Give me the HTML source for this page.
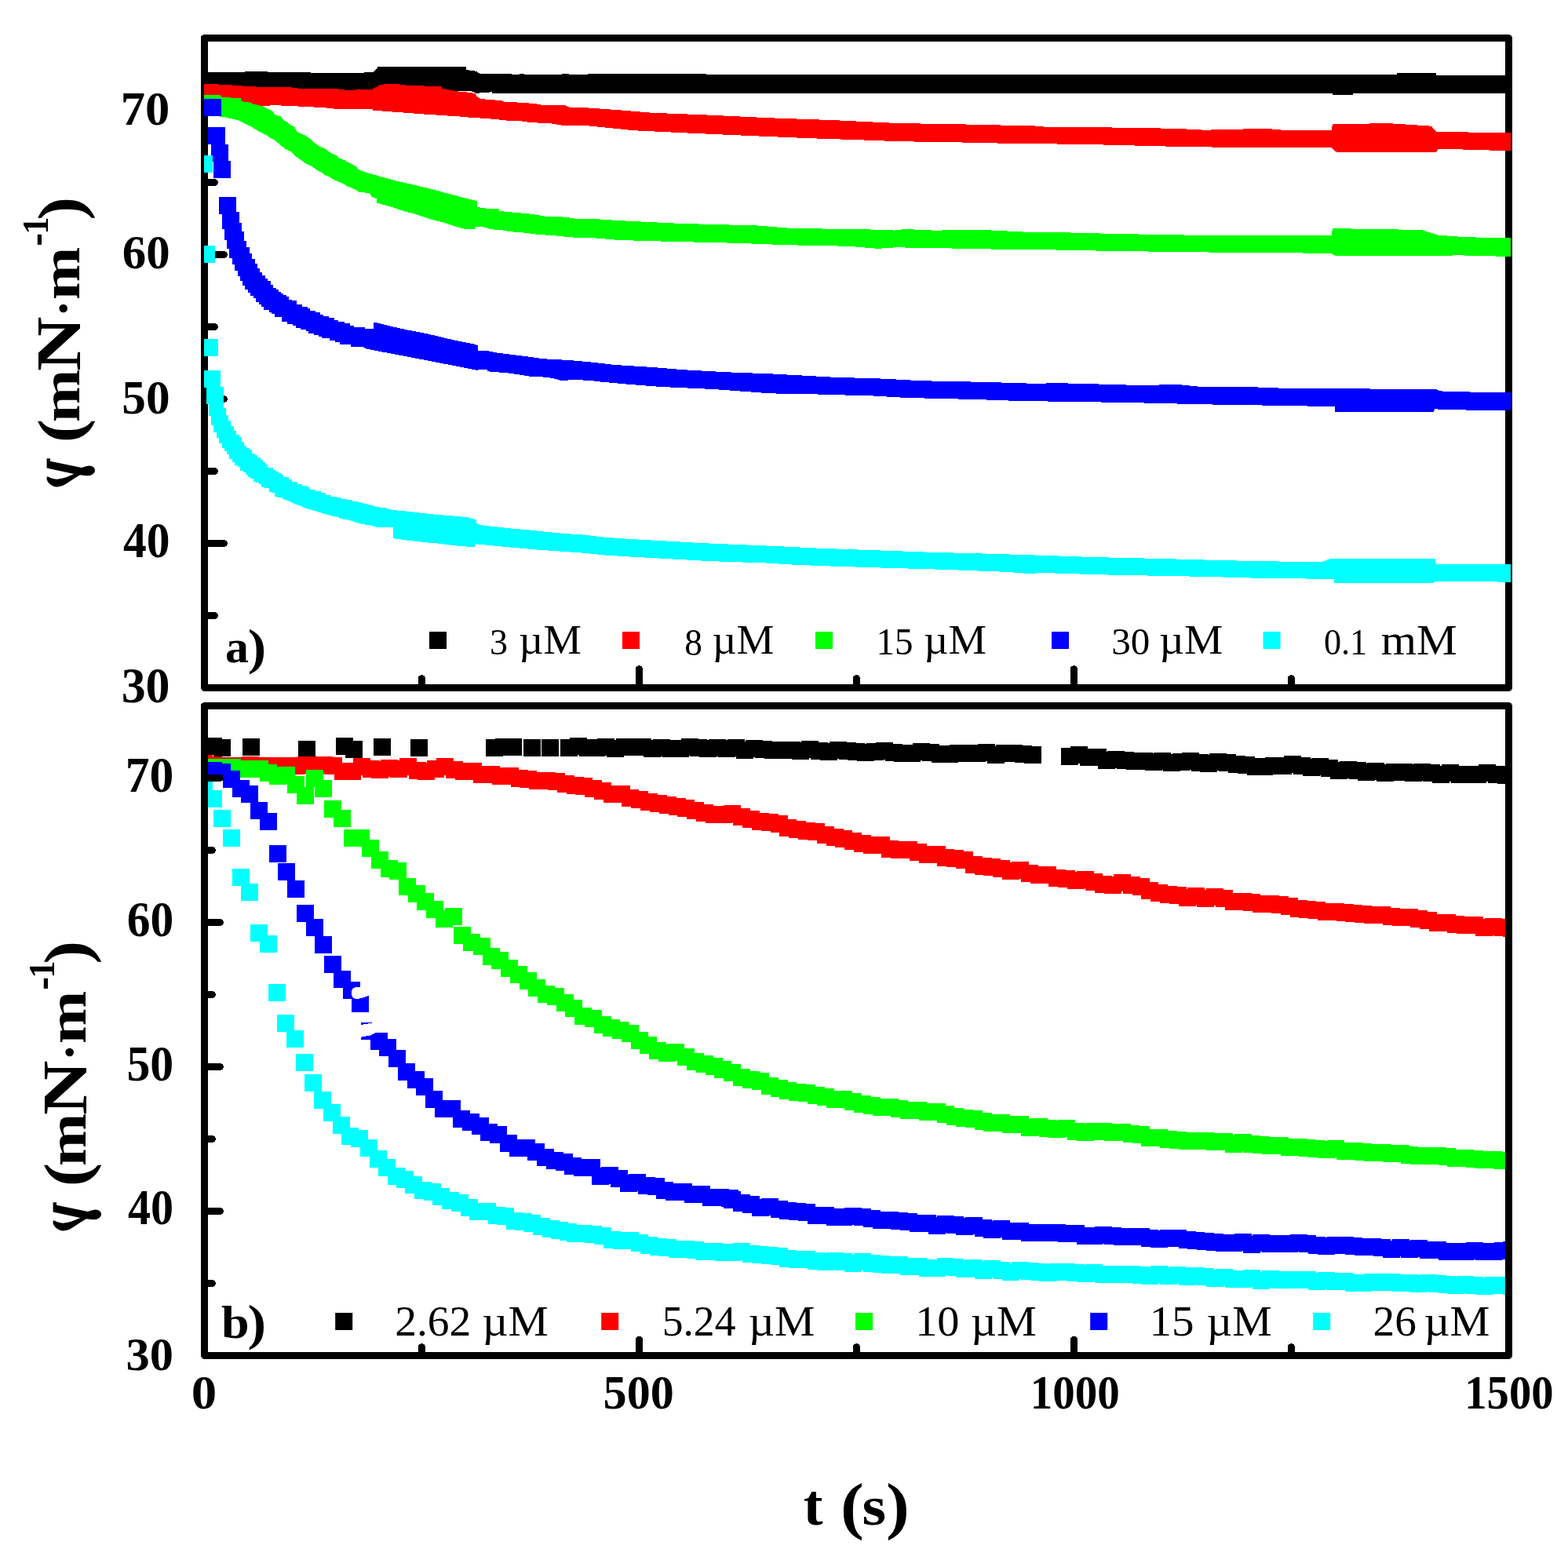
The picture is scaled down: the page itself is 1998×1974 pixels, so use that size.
<!DOCTYPE html>
<html><head><meta charset="utf-8"><style>
html,body{margin:0;padding:0;background:#fff;}
svg{display:block;}
text{font-family:"Liberation Serif","DejaVu Serif",serif;fill:#000;}
</style></head><body>
<svg width="1998" height="1974" viewBox="0 0 1998 1974" shape-rendering="crispEdges">
<defs>
<clipPath id="ca"><rect x="260" y="48.5" width="1665" height="828.0"/></clipPath>
<clipPath id="cb"><rect x="265" y="904" width="1653" height="819"/></clipPath>
</defs>
<rect width="1998" height="1974" fill="#fff"/>
<g stroke="#000" stroke-width="9" stroke-linecap="round" stroke-linejoin="round">
<rect x="260.5" y="48.5" width="1662.0" height="828.0" fill="none" stroke="#000" stroke-width="9"/>
<line x1="814.5" y1="876.5" x2="814.5" y2="852.5" />
<line x1="1368.5" y1="876.5" x2="1368.5" y2="852.5" />
<line x1="537.5" y1="876.5" x2="537.5" y2="864.5" />
<line x1="1091.5" y1="876.5" x2="1091.5" y2="864.5" />
<line x1="1645.5" y1="876.5" x2="1645.5" y2="864.5" />
<line x1="260.5" y1="692.5" x2="285.5" y2="692.5" />
<line x1="260.5" y1="508.5" x2="285.5" y2="508.5" />
<line x1="260.5" y1="324.5" x2="285.5" y2="324.5" />
<line x1="260.5" y1="140.5" x2="285.5" y2="140.5" />
<line x1="260.5" y1="784.5" x2="273.5" y2="784.5" />
<line x1="260.5" y1="600.5" x2="273.5" y2="600.5" />
<line x1="260.5" y1="416.5" x2="273.5" y2="416.5" />
<line x1="260.5" y1="232.5" x2="273.5" y2="232.5" />
</g>
<g clip-path="url(#ca)">
<polygon fill="#000000" points="255,92 312,92 312,91 341,91 341,92 450,93 475.6,92.1 481.8,85.1 593.6,85.1 594.4,89 606,90.6 611.5,93.7 651.9,93.7 651.9,95.5 664.3,94.3 689.1,95.5 721.7,94.3 743.5,95.5 750,94.3 900,94.5 1100,94.5 1330,95.5 1780,95 1780,93.3 1830,93.3 1830,95.5 1930,95.5 1930,119 1724,119 1724,121.2 1698,121.2 1698,119 1340,118.5 740,118.5 627,118.5 627,117.3 606.8,118.8 600,116 255,116"/>
<polygon fill="#ff0000" points="255,107.8 262.9,107 287,107.8 313.7,109.9 333.6,110.9 371.3,111.4 378.6,112.5 431,113.5 439.4,114.6 451,114.6 455,114.2 473.3,114.5 475.6,112.9 481,110.3 483.4,107.6 506.7,107.2 518.3,108.7 561.8,110.3 563.4,112.6 572.7,114.5 583.5,116.5 596,117.6 605.3,119.1 607.6,122.7 612.3,125.8 619.3,126.6 638.7,128.1 643.3,130 658.9,130.5 682.1,132 689.1,133.6 720.2,134.3 725.6,136.7 740,136.8 795.9,140.8 833.2,143.9 892.2,146.1 976,150.1 1063,153.2 1143.7,157 1230.7,158.5 1327,160.7 1330,161.6 1417,162.5 1497.7,163.8 1535,165.7 1612.6,163.8 1634.3,165.7 1696.5,166.3 1698,158.5 1767.9,157 1823.8,160.7 1830,167.8 1889,168.8 1930,168.8 1930,191.7 1904.5,191.7 1833.1,189.6 1830,193.6 1702.7,193.6 1696.5,188 1653,188 1572.2,188 1485.3,186.5 1398.3,184.3 1340,183.4 1311.4,183.4 1212,181.2 1143.7,180.2 1106.5,178.7 1031.9,176.2 957.4,173.1 873.5,169.4 808.3,166.3 750,160.4 717.9,160 702.3,157.3 676.7,156.1 665,154.5 641,153.3 634,152.2 614.6,150.7 597.5,149.6 583.5,148.3 569.6,147.5 555.6,146.5 540.1,145.5 526.1,144.4 512.1,143.4 498.1,142.4 484.2,141.3 475.6,141.3 474.8,139 455,138.9 427.9,138.9 412.7,137.1 379.7,135.5 353,134.3 347.7,134.3 333.6,135 300,132 255,130"/>
<polygon fill="#00ff00" points="255,120.9 281,120.9 281,123 283.8,123.8 293.8,124.5 306.9,125 306.9,127.7 311,129.8 321,130.8 322,132.4 333.6,135 340.9,138.7 347.7,141.8 350.9,147 357.7,148.1 360.8,152.8 365,154.9 368.1,158 371.8,160.1 375.5,162.2 378.6,168 388,172.2 391.7,174.3 394.9,176.9 400.6,182.1 408,186.9 414.8,190 421.6,194.7 427.9,197.9 431,201 438.9,204.1 445.7,207.8 452,211 455,213.6 457,216.3 464,219 474.8,222.1 485.7,225.2 499.7,229.1 512.1,232.2 526.1,235.3 540.1,238.7 555.6,242.3 569.6,246.5 583.5,250 597.5,253.6 608.4,256.2 608.4,264 619.3,265.5 635.6,266.3 636.3,268.9 651.9,270.5 665.8,271.7 679,273 694.6,275.6 721.7,276.7 732.6,278.7 750,278.7 802.1,281.8 867.3,284.9 963.6,287.4 1010.2,291.1 1094,292 1140.6,293.6 1153,292 1190.3,293.6 1252.4,293 1314.5,296.1 1340,295.8 1392.1,297.3 1485.3,299.2 1578.4,300.4 1696.5,300.4 1698,291.1 1811.4,293 1833.1,299.8 1870.4,302.3 1930,303.5 1930,327.1 1858,325.3 1826.9,326.2 1702.7,326.2 1696.5,323.1 1640.6,322.2 1547.4,321.6 1423.2,320 1340,318.4 1302.1,318.4 1236.9,316.9 1140.6,315.3 1118.9,316.9 1081.6,313.8 1000.9,312.2 938.8,309.8 845.6,307.6 789.7,306 750,302.8 734.2,302.8 718.6,301.6 703.9,300 684.5,298.9 668.2,296.6 648,295 641,293.5 624.7,292.2 616.9,289.6 606.8,288.8 604.5,291.9 593.6,292.2 583.5,289.6 564.9,283.4 549.4,279.5 530.7,273.3 515.2,269.4 496.6,263.2 480.3,258.5 480.3,253.1 473.3,250.8 471,246.1 457,244.6 453.5,241.9 447.2,239.2 440.4,236.1 437.3,234 431,231.4 425.8,229.3 420,225.6 413.2,222.5 410.1,219.9 403.8,216.7 397,212 389.6,208.3 382.8,203.6 377,199.4 373.4,195.8 369.7,192.6 362.9,189.5 358.7,185.8 353.5,181.6 349.8,178.5 343,174.8 338.8,171.7 333,169 328.9,167 323.1,163.3 315.8,159.6 309.5,156 303.2,153.3 292.2,150.7 288.5,149.7 281.2,148.6 255,147"/>
<polygon fill="#0000ff" points="279,251 301,251 301,270 305,270 305,284 308,284 308,295 311,295 311,307 314,307 314,315 318,315 318,323 321,323 321,330 325,330 325,336 328,336 328,342 331,342 331,347 334,347 334,351 338,351 338,355 341,355 341,358 345,358 345,363 348,363 348,367 352,367 352,369 355,369 355,372 358,372 358,374 361,374 361,376 365,376 365,378 368,378 368,382 371.8,382 371.8,383 378,383 378,388 385,388 385,391 391.7,391 391.7,393 394.9,393 394.9,396 401.7,396 401.7,398.3 408,398.3 408,401 412,401 412,403 419,403 419,405 426,405 426,407.7 431,407.7 431,410 438.9,410 438.9,412 445.7,412 445.7,414.8 451,414.8 451,417 464.8,417 464.8,419 475.6,419 476.1,411.2 481,411.5 490.4,413.8 502.8,416.9 516.8,420 530.7,422.7 544.7,425.5 558.7,428.6 571.1,431.7 585.1,434.8 603.7,438.5 608.7,440.1 608.7,446.8 622.4,447.4 631.7,449.4 650.3,451.7 669.7,454.1 686,456.4 701.6,458 721.7,458.7 739.6,460.3 750,461.1 783.5,465 833.2,468.1 870.4,471.2 926.3,474.3 985.3,476.5 1059.9,480.6 1128.2,482.7 1171.7,485.2 1252.4,486.8 1320.7,488.9 1345.5,488.1 1407.6,489.7 1458.9,491.2 1497.7,489.7 1528.8,492.8 1600.2,493.4 1642.1,495 1702.7,495.3 1830,495.9 1834.7,498.4 1876.6,499.6 1930,500.6 1930,522.3 1901.4,523.2 1858,522.3 1828.4,521.4 1826.9,524.5 1701.1,524.5 1701.1,517.6 1671.6,517.6 1584.7,516.1 1524.1,515.2 1479.1,513.9 1396.8,512.4 1340,511.6 1289.7,510.7 1246.2,509.1 1156.1,507 1112.7,504.5 1035,502.3 982.2,501.4 910.8,496.1 842.5,493 802.1,489.9 768,486.8 750,484.7 735.7,484.3 714,484.7 704.7,482 692.2,480.5 675.2,479.7 651.1,475.8 637.9,474.7 620.8,473.2 620.8,471.1 606.1,471.6 585.1,467.3 564.9,463.4 544.7,459.5 524.5,455.6 504.3,451.7 484.2,447.9 467.9,444.8 462.4,442.1 455,442.3 447.2,442.3 447.2,439.2 433.1,439.2 433.1,436 426.8,436 426.8,434 420,434 420,431.3 410,431.3 410,428.7 406.4,428.7 406.4,426.6 400,426.6 400,424.7 393,424.7 393,421.9 390,421.9 390,420 383.3,420 383.3,418.2 377,418.2 377,414.8 373.4,414.8 373.4,413 366,413 366,409.8 359,409.8 359,403.7 350,403.7 350,399.9 346.1,399.9 346.1,397.8 343,397.8 343,394.6 336.2,394.6 336.2,391 333,391 333,388 330,388 330,385 326,385 326,380 323,380 323,377 319,377 319,373 316,373 316,369 312,369 312,364 309,364 309,358 306,358 306,352 303,352 303,344.9 299,344.9 299,337 296.1,337 296.1,329 292.2,329 292.2,317 289,317 289,305.9 286.1,305.9 286.1,292 283.1,292 283.1,273.1 279.1,273.1"/>
<path fill="#0000ff" d="M259.5 126h22v22h-22zM265 162h22v22h-22zM269 183.5h22v22h-22zM272 205h22v22h-22z"/>
<polygon fill="#00ffff" points="260,472 281,472 281,492.9 284.9,492.9 284.9,520.1 288,520.1 288,529 291,529 291,535.9 294,535.9 294,543.2 298,543.2 298,549 300.9,549 300.9,554 305,554 305,557.1 308,557.1 308,563.1 311,563.1 311,568 314,568 314,571 318,571 318,573 321,573 321,578.1 325,578.1 325,579.9 328,579.9 328,583 332,583 332,586.1 335,586.1 335,589 338,589 338,592 341,592 341,595.9 348,595.9 348,599 352,599 352,600.8 355,600.8 355,602.9 359,602.9 359,605 361,605 361,608.2 368,608.2 368,611 371.8,611 371.8,613.6 378.6,613.6 378.6,616.7 384.8,616.7 384.8,619.2 391.7,619.2 391.7,621 394.9,621 394.9,623.9 401.9,623.9 401.9,625.7 409,625.7 409,627.9 415,627.9 415,630.6 422.1,630.6 422.1,632.5 428.9,632.5 428.9,634.1 435.2,634.1 435.2,636 442,636 442,637.4 448.8,637.4 448.8,639.2 455,639.2 461.9,640.9 469,642.8 476.1,644.5 478,645.8 491.9,647.4 498.1,649.7 515.2,651.3 535.4,653.6 557.1,655.9 586.6,658.3 596.7,659.5 606.5,662.1 606.8,666.8 613,669.1 633.2,671.5 653.4,673.8 673.6,675.3 693.8,677.7 720.2,680 739.6,681.2 750,682.3 771.1,684.8 808.3,687.3 848.7,689.5 892.2,692 945,694.2 994.7,696.3 1045.9,698.8 1108,701 1177.9,703.5 1271,706 1335,708 1395.2,710.1 1440.2,711.1 1491.5,712.3 1559.8,714.2 1620.4,715.4 1684,716.3 1694.9,712 1828.4,712 1830,718.8 1847.1,719.4 1930,719.4 1930,741.5 1907.6,741.5 1828.4,740.6 1826.9,742.7 1699.6,742.7 1699.6,737.5 1665.4,737.5 1594,736.5 1541.2,735 1472.9,733.7 1423.2,732.8 1364.2,731.2 1335,730.2 1308.3,730.8 1283.5,728.9 1202.7,725.8 1128.2,723.7 1058.3,721.5 1010.2,719.6 976,717.5 901.5,715 851.8,712.2 805.2,709.7 771.1,707.5 740,704.4 676.7,700 662.7,698.6 636.3,696.3 614.6,694 606.1,693.2 605.3,697.4 582,695.5 555.6,692.4 537,690.6 518.3,688.5 501.2,686.2 501.2,671.9 478.9,671.6 474,669.8 467.1,668.9 460,667.6 451,664.8 443.9,662.7 433,660.8 430.8,658.9 424,657.7 420.2,656.8 416.8,655.8 410,654 404.1,651.8 400.1,650.9 392.9,648.7 387,646.8 383.9,645 376.8,642.8 369.9,639.7 366.2,637.8 359.8,636 359.8,634.3 353,634.3 353,632.8 350,632.8 350,628 346.1,628 346.1,626.5 343,626.5 343,622.3 337,622.3 337,620.7 333,620.7 333,617 330,617 330,615.2 326,615.2 326,614 323.1,614 323.1,610 319.1,610 319.1,608.2 316,608.2 316,605 313.1,605 313.1,601.9 310,601.9 310,600 306,600 306,595 303,595 303,593 299,593 299,588.8 296.1,588.8 296.1,585.1 292.2,585.1 292.2,579.1 289,579.1 289,575 286.1,575 286.1,571 283.1,571 283.1,564.9 279.1,564.9 279.1,557.9 276,557.9 276,550.8 272,550.8 272,541.6 269,541.6 269,530 266,530 266,514.9 262.9,514.9 262.9,494 260,494"/>
<path fill="#00ffff" d="M249 198h22v22h-22zM251.9 312.9h22v22h-22zM255.8 431.8h22v22h-22z"/>
</g>
<g clip-path="url(#cb)">
<path fill="#000000" d="M260.8 939.9h22v22h-22zM272 942h22v22h-22zM309 941h22v22h-22zM380 944.1h22v22h-22zM428 939.9h22v22h-22zM440 944h22v22h-22zM476 941h22v22h-22zM523 942h22v22h-22zM619.3 941.7h22v22h-22zM631.1 941.3h22v22h-22zM642.9 941h22v22h-22zM666.6 942.3h22v22h-22zM690.2 941.5h22v22h-22zM713.9 941.6h22v22h-22zM725.7 940.1h22v22h-22zM737.5 941.8h22v22h-22zM749.3 941.8h22v22h-22zM761.1 941.2h22v22h-22zM773 942.5h22v22h-22zM784.8 941h22v22h-22zM796.6 941.3h22v22h-22zM808.4 940.8h22v22h-22zM820.2 943.1h22v22h-22zM832.1 942.3h22v22h-22zM843.9 942.9h22v22h-22zM855.7 942.9h22v22h-22zM867.5 940.5h22v22h-22zM879.3 942.3h22v22h-22zM891.2 943.3h22v22h-22zM903 941.5h22v22h-22zM914.8 943.3h22v22h-22zM926.6 941.8h22v22h-22zM938.4 944.5h22v22h-22zM950.3 942.7h22v22h-22zM962.1 943.6h22v22h-22zM973.9 944.7h22v22h-22zM985.7 944.5h22v22h-22zM997.5 944.8h22v22h-22zM1009.4 945.5h22v22h-22zM1021.2 944.3h22v22h-22zM1033 946.1h22v22h-22zM1044.8 947.2h22v22h-22zM1056.6 945.3h22v22h-22zM1068.5 945.5h22v22h-22zM1080.3 947.2h22v22h-22zM1092.1 947.6h22v22h-22zM1103.9 947.3h22v22h-22zM1115.7 945.9h22v22h-22zM1127.6 947.5h22v22h-22zM1139.4 948.7h22v22h-22zM1151.2 948.8h22v22h-22zM1163 947.1h22v22h-22zM1174.8 948.4h22v22h-22zM1186.7 950.4h22v22h-22zM1198.5 950.3h22v22h-22zM1210.3 949.2h22v22h-22zM1222.1 948.9h22v22h-22zM1233.9 949.4h22v22h-22zM1245.8 948.3h22v22h-22zM1257.6 950.9h22v22h-22zM1269.4 949.2h22v22h-22zM1281.2 949.4h22v22h-22zM1293 950.4h22v22h-22zM1304.9 950.5h22v22h-22zM1352.1 952.7h22v22h-22zM1364 951.4h22v22h-22zM1375.8 954.3h22v22h-22zM1387.6 953.6h22v22h-22zM1399.4 957.5h22v22h-22zM1411.2 957.2h22v22h-22zM1423.1 957.5h22v22h-22zM1434.9 958.8h22v22h-22zM1446.7 959h22v22h-22zM1458.5 959.8h22v22h-22zM1470.3 959h22v22h-22zM1482.2 961.1h22v22h-22zM1494 959.8h22v22h-22zM1505.8 959.4h22v22h-22zM1517.6 961.1h22v22h-22zM1529.4 961.5h22v22h-22zM1541.3 960.3h22v22h-22zM1553.1 960.8h22v22h-22zM1564.9 963.1h22v22h-22zM1576.7 963.6h22v22h-22zM1588.5 965.5h22v22h-22zM1600.4 965.7h22v22h-22zM1612.2 965.1h22v22h-22zM1624 965h22v22h-22zM1635.8 963.4h22v22h-22zM1647.6 965.2h22v22h-22zM1659.5 966.6h22v22h-22zM1671.3 966.4h22v22h-22zM1683.1 967.8h22v22h-22zM1694.9 970.7h22v22h-22zM1706.7 970.4h22v22h-22zM1718.6 971.3h22v22h-22zM1730.4 972.5h22v22h-22zM1742.2 971.7h22v22h-22zM1754 973.6h22v22h-22zM1765.8 972.9h22v22h-22zM1777.7 972.9h22v22h-22zM1789.5 974.3h22v22h-22zM1801.3 972.9h22v22h-22zM1813.1 974h22v22h-22zM1824.9 975.9h22v22h-22zM1836.8 974h22v22h-22zM1848.6 976.3h22v22h-22zM1860.4 975.6h22v22h-22zM1872.2 976h22v22h-22zM1884 974h22v22h-22zM1895.9 976h22v22h-22zM1907.7 976.8h22v22h-22zM1919.5 975.8h22v22h-22z"/>
<path fill="#ff0000" d="M248.7 962h22v22h-22zM260.5 964h22v22h-22zM272.3 964.5h22v22h-22zM284.2 964.5h22v22h-22zM296 964.5h22v22h-22zM307.8 964h22v22h-22zM319.6 964.5h22v22h-22zM331.4 965h22v22h-22zM343.3 965h22v22h-22zM355.1 964.5h22v22h-22zM366.9 964.5h22v22h-22zM378.7 964h22v22h-22zM390.5 964.5h22v22h-22zM402.4 964h22v22h-22zM414.2 964.7h22v22h-22zM426 972h22v22h-22zM437.8 972h22v22h-22zM449.6 966h22v22h-22zM461.5 969h22v22h-22zM473.3 969.5h22v22h-22zM485.1 967.5h22v22h-22zM496.9 968.5h22v22h-22zM508.7 966h22v22h-22zM520.6 970.5h22v22h-22zM532.4 972h22v22h-22zM544.2 969h22v22h-22zM556 966.3h22v22h-22zM567.8 969.5h22v22h-22zM579.7 971.9h22v22h-22zM591.5 971.6h22v22h-22zM603.3 975.9h22v22h-22zM615.1 975.8h22v22h-22zM626.9 977.9h22v22h-22zM638.8 977.9h22v22h-22zM650.6 981h22v22h-22zM662.4 982.1h22v22h-22zM674.2 983.6h22v22h-22zM686 983.6h22v22h-22zM697.9 985.4h22v22h-22zM709.7 987.5h22v22h-22zM721.5 989.6h22v22h-22zM733.3 990.5h22v22h-22zM745.1 994.3h22v22h-22zM757 996.7h22v22h-22zM768.8 1000.9h22v22h-22zM780.6 1000.8h22v22h-22zM792.4 1006h22v22h-22zM804.2 1007.5h22v22h-22zM816.1 1010.6h22v22h-22zM827.9 1012.9h22v22h-22zM839.7 1014.8h22v22h-22zM851.5 1017.3h22v22h-22zM863.3 1018.5h22v22h-22zM875.2 1021.8h22v22h-22zM887 1025.1h22v22h-22zM898.8 1027.1h22v22h-22zM910.6 1026.8h22v22h-22zM922.4 1026h22v22h-22zM934.3 1030.2h22v22h-22zM946.1 1033.1h22v22h-22zM957.9 1035.9h22v22h-22zM969.7 1037.3h22v22h-22zM981.5 1039.4h22v22h-22zM993.4 1044h22v22h-22zM1005.2 1045.9h22v22h-22zM1017 1047.6h22v22h-22zM1028.8 1049.2h22v22h-22zM1040.6 1053.2h22v22h-22zM1052.5 1056h22v22h-22zM1064.3 1058h22v22h-22zM1076.1 1060.8h22v22h-22zM1087.9 1063.8h22v22h-22zM1099.7 1066.4h22v22h-22zM1111.6 1066.3h22v22h-22zM1123.4 1070.7h22v22h-22zM1135.2 1071.9h22v22h-22zM1147 1072.1h22v22h-22zM1158.8 1075.3h22v22h-22zM1170.7 1078.1h22v22h-22zM1182.5 1077.6h22v22h-22zM1194.3 1082.2h22v22h-22zM1206.1 1082.6h22v22h-22zM1217.9 1085h22v22h-22zM1229.8 1091.4h22v22h-22zM1241.6 1093.4h22v22h-22zM1253.4 1094h22v22h-22zM1265.2 1096.2h22v22h-22zM1277 1099h22v22h-22zM1288.9 1098.3h22v22h-22zM1300.7 1102.1h22v22h-22zM1312.5 1104.2h22v22h-22zM1324.3 1104.1h22v22h-22zM1336.1 1108.1h22v22h-22zM1348 1108.8h22v22h-22zM1359.8 1110.7h22v22h-22zM1371.6 1109.9h22v22h-22zM1383.4 1112.8h22v22h-22zM1395.2 1115.6h22v22h-22zM1407.1 1116.6h22v22h-22zM1418.9 1114.3h22v22h-22zM1430.7 1117.3h22v22h-22zM1442.5 1119.4h22v22h-22zM1454.3 1123.6h22v22h-22zM1466.2 1126.7h22v22h-22zM1478 1129h22v22h-22zM1489.8 1130.3h22v22h-22zM1501.6 1132.6h22v22h-22zM1513.4 1131.4h22v22h-22zM1525.3 1134.3h22v22h-22zM1537.1 1132.2h22v22h-22zM1548.9 1134.4h22v22h-22zM1560.7 1137.8h22v22h-22zM1572.5 1137.5h22v22h-22zM1584.4 1138.8h22v22h-22zM1596.2 1140.5h22v22h-22zM1608 1140.6h22v22h-22zM1619.8 1141.6h22v22h-22zM1631.6 1143.8h22v22h-22zM1643.5 1146.6h22v22h-22zM1655.3 1147.5h22v22h-22zM1667.1 1148.5h22v22h-22zM1678.9 1150.7h22v22h-22zM1690.7 1150.5h22v22h-22zM1702.6 1152.4h22v22h-22zM1714.4 1153.4h22v22h-22zM1726.2 1154.3h22v22h-22zM1738 1154.5h22v22h-22zM1749.8 1154.7h22v22h-22zM1761.7 1156.6h22v22h-22zM1773.5 1158.1h22v22h-22zM1785.3 1158h22v22h-22zM1797.1 1159.6h22v22h-22zM1808.9 1162h22v22h-22zM1820.8 1165.1h22v22h-22zM1832.6 1164.9h22v22h-22zM1844.4 1167.4h22v22h-22zM1856.2 1167.7h22v22h-22zM1868 1167.9h22v22h-22zM1879.9 1170.9h22v22h-22zM1891.7 1169.9h22v22h-22zM1903.5 1171.4h22v22h-22zM1915.3 1171.6h22v22h-22z"/>
<path fill="#00ff00" d="M248.7 967h22v22h-22zM260.8 967h22v22h-22zM272.6 967h22v22h-22zM284.6 967h22v22h-22zM296 968.5h22v22h-22zM308 969h22v22h-22zM319.5 969h22v22h-22zM331 974h22v22h-22zM343 977.6h22v22h-22zM354 977h22v22h-22zM366 988.9h22v22h-22zM378 1002.8h22v22h-22zM390 981h22v22h-22zM401 994h22v22h-22zM413 1019.5h22v22h-22zM425 1032h22v22h-22zM438 1057h22v22h-22zM449 1057h22v22h-22zM461 1070h22v22h-22zM473 1085h22v22h-22zM485 1095.5h22v22h-22zM496 1099h22v22h-22zM508 1119h22v22h-22zM520 1128h22v22h-22zM530.8 1138.3h22v22h-22zM542.8 1148h22v22h-22zM555 1159.8h22v22h-22zM567 1157h22v22h-22zM578 1181h22v22h-22zM590 1190h22v22h-22zM603 1195h22v22h-22zM615 1208h22v22h-22zM626 1213h22v22h-22zM638 1223h22v22h-22zM650 1231h22v22h-22zM662 1239h22v22h-22zM673 1248h22v22h-22zM685 1256h22v22h-22zM697 1259h22v22h-22zM709 1267h22v22h-22zM720 1274h22v22h-22zM732 1284h22v22h-22zM745 1287h22v22h-22zM757 1295h22v22h-22zM768 1299h22v22h-22zM780 1302h22v22h-22zM792 1306h22v22h-22zM804 1315h22v22h-22zM815 1321h22v22h-22zM827 1328h22v22h-22zM839 1331h22v22h-22zM850 1330h22v22h-22zM863 1336h22v22h-22zM875 1342h22v22h-22zM887 1345h22v22h-22zM899 1348h22v22h-22zM910 1351.5h22v22h-22zM922 1356h22v22h-22zM934.3 1362h22v22h-22zM946.1 1364.5h22v22h-22zM957.9 1367.1h22v22h-22zM969.7 1372.9h22v22h-22zM981.5 1376.3h22v22h-22zM993.4 1378.8h22v22h-22zM1005.2 1380.8h22v22h-22zM1017 1381.6h22v22h-22zM1028.8 1385.2h22v22h-22zM1040.6 1387.1h22v22h-22zM1052.5 1389.6h22v22h-22zM1064.3 1389.7h22v22h-22zM1076.1 1392.9h22v22h-22zM1087.9 1395.8h22v22h-22zM1099.7 1398.2h22v22h-22zM1111.6 1400h22v22h-22zM1123.4 1399.8h22v22h-22zM1135.2 1401.7h22v22h-22zM1147 1403.8h22v22h-22zM1158.8 1404.1h22v22h-22zM1170.7 1405.7h22v22h-22zM1182.5 1405.8h22v22h-22zM1194.3 1408.8h22v22h-22zM1206.1 1411.9h22v22h-22zM1217.9 1413.5h22v22h-22zM1229.8 1414.8h22v22h-22zM1241.6 1417.6h22v22h-22zM1253.4 1420.1h22v22h-22zM1265.2 1420.4h22v22h-22zM1277 1421.8h22v22h-22zM1288.9 1422.2h22v22h-22zM1300.7 1425.8h22v22h-22zM1312.5 1425.4h22v22h-22zM1324.3 1427h22v22h-22zM1336.1 1428.4h22v22h-22zM1348 1427.3h22v22h-22zM1359.8 1430.7h22v22h-22zM1371.6 1431.8h22v22h-22zM1383.4 1431.4h22v22h-22zM1395.2 1430.7h22v22h-22zM1407.1 1432.4h22v22h-22zM1418.9 1431.6h22v22h-22zM1430.7 1434.2h22v22h-22zM1442.5 1435.4h22v22h-22zM1454.3 1438.9h22v22h-22zM1466.2 1438.5h22v22h-22zM1478 1441.1h22v22h-22zM1489.8 1441.5h22v22h-22zM1501.6 1442.5h22v22h-22zM1513.4 1442.5h22v22h-22zM1525.3 1442.9h22v22h-22zM1537.1 1444.3h22v22h-22zM1548.9 1444.3h22v22h-22zM1560.7 1447.1h22v22h-22zM1572.5 1445.1h22v22h-22zM1584.4 1447.3h22v22h-22zM1596.2 1448h22v22h-22zM1608 1449.4h22v22h-22zM1619.8 1448.5h22v22h-22zM1631.6 1450.8h22v22h-22zM1643.5 1450.9h22v22h-22zM1655.3 1451.5h22v22h-22zM1667.1 1453.1h22v22h-22zM1678.9 1454h22v22h-22zM1690.7 1452.7h22v22h-22zM1702.6 1456.1h22v22h-22zM1714.4 1456.2h22v22h-22zM1726.2 1456.6h22v22h-22zM1738 1457.5h22v22h-22zM1749.8 1458.4h22v22h-22zM1761.7 1459.2h22v22h-22zM1773.5 1459.4h22v22h-22zM1785.3 1461.1h22v22h-22zM1797.1 1461.6h22v22h-22zM1808.9 1462.3h22v22h-22zM1820.8 1462.3h22v22h-22zM1832.6 1462.7h22v22h-22zM1844.4 1464.6h22v22h-22zM1856.2 1464.7h22v22h-22zM1868 1466.2h22v22h-22zM1879.9 1467.3h22v22h-22zM1891.7 1467.4h22v22h-22zM1903.5 1468.1h22v22h-22zM1915.3 1467.7h22v22h-22z"/>
<path fill="#0000ff" d="M260.8 971h22v22h-22zM272 972.9h22v22h-22zM284 981.9h22v22h-22zM296 993.7h22v22h-22zM307 1000.8h22v22h-22zM319 1021.8h22v22h-22zM331 1035.9h22v22h-22zM343 1076.7h22v22h-22zM354 1100h22v22h-22zM366 1122h22v22h-22zM378 1153h22v22h-22zM390 1171h22v22h-22zM401 1193.4h22v22h-22zM413 1218h22v22h-22zM425 1237h22v22h-22zM436.5 1251h22v22h-22zM448 1268h22v22h-22zM460 1303h22v22h-22zM472 1316h22v22h-22zM483 1324h22v22h-22zM495 1338h22v22h-22zM507 1355h22v22h-22zM519 1364.5h22v22h-22zM530 1374h22v22h-22zM542 1390h22v22h-22zM554 1402h22v22h-22zM565 1402h22v22h-22zM577 1414.5h22v22h-22zM589 1419h22v22h-22zM601 1424h22v22h-22zM612 1432h22v22h-22zM624 1435h22v22h-22zM637 1446h22v22h-22zM649 1452h22v22h-22zM660 1452h22v22h-22zM672 1456.5h22v22h-22zM684 1463.5h22v22h-22zM696 1468h22v22h-22zM707.5 1470h22v22h-22zM719 1475h22v22h-22zM731 1476.5h22v22h-22zM743 1477h22v22h-22zM754 1487.5h22v22h-22zM766 1487h22v22h-22zM778 1491h22v22h-22zM790 1497h22v22h-22zM801 1496h22v22h-22zM813 1499.5h22v22h-22zM825 1501h22v22h-22zM836 1506h22v22h-22zM848 1508h22v22h-22zM860 1508h22v22h-22zM872 1511h22v22h-22zM883 1511h22v22h-22zM895 1514.6h22v22h-22zM907 1515h22v22h-22zM919 1516h22v22h-22zM922.4 1518.1h22v22h-22zM934.3 1522.2h22v22h-22zM946.1 1524.4h22v22h-22zM957.9 1527.7h22v22h-22zM969.7 1526.7h22v22h-22zM981.5 1529.8h22v22h-22zM993.4 1532.3h22v22h-22zM1005.2 1533.2h22v22h-22zM1017 1534.3h22v22h-22zM1028.8 1538h22v22h-22zM1040.6 1537.6h22v22h-22zM1052.5 1540h22v22h-22zM1064.3 1539.6h22v22h-22zM1076.1 1538.5h22v22h-22zM1087.9 1540.2h22v22h-22zM1099.7 1542.2h22v22h-22zM1111.6 1543.6h22v22h-22zM1123.4 1543.7h22v22h-22zM1135.2 1545.2h22v22h-22zM1147 1546.2h22v22h-22zM1158.8 1548h22v22h-22zM1170.7 1547.7h22v22h-22zM1182.5 1550.6h22v22h-22zM1194.3 1548.9h22v22h-22zM1206.1 1550.2h22v22h-22zM1217.9 1551.8h22v22h-22zM1229.8 1551.3h22v22h-22zM1241.6 1554.2h22v22h-22zM1253.4 1555.6h22v22h-22zM1265.2 1555.3h22v22h-22zM1277 1558.1h22v22h-22zM1288.9 1558.1h22v22h-22zM1300.7 1560.4h22v22h-22zM1312.5 1559.9h22v22h-22zM1324.3 1560.1h22v22h-22zM1336.1 1560.1h22v22h-22zM1348 1561h22v22h-22zM1359.8 1561.2h22v22h-22zM1371.6 1563.7h22v22h-22zM1383.4 1563.7h22v22h-22zM1395.2 1562.8h22v22h-22zM1407.1 1564.3h22v22h-22zM1418.9 1565h22v22h-22zM1430.7 1565.1h22v22h-22zM1442.5 1564.5h22v22h-22zM1454.3 1567h22v22h-22zM1466.2 1568.1h22v22h-22zM1478 1567h22v22h-22zM1489.8 1567.3h22v22h-22zM1501.6 1569.3h22v22h-22zM1513.4 1569.9h22v22h-22zM1525.3 1570.9h22v22h-22zM1537.1 1572.1h22v22h-22zM1548.9 1572.9h22v22h-22zM1560.7 1572.9h22v22h-22zM1572.5 1572.4h22v22h-22zM1584.4 1574.5h22v22h-22zM1596.2 1572.5h22v22h-22zM1608 1573.5h22v22h-22zM1619.8 1574h22v22h-22zM1631.6 1573.5h22v22h-22zM1643.5 1573.2h22v22h-22zM1655.3 1574.3h22v22h-22zM1667.1 1576.4h22v22h-22zM1678.9 1576.9h22v22h-22zM1690.7 1576.4h22v22h-22zM1702.6 1575.6h22v22h-22zM1714.4 1576.5h22v22h-22zM1726.2 1577.8h22v22h-22zM1738 1577.6h22v22h-22zM1749.8 1579h22v22h-22zM1761.7 1581.1h22v22h-22zM1773.5 1579.1h22v22h-22zM1785.3 1581.2h22v22h-22zM1797.1 1580.4h22v22h-22zM1808.9 1582.1h22v22h-22zM1820.8 1582.4h22v22h-22zM1832.6 1583.9h22v22h-22zM1844.4 1583.7h22v22h-22zM1856.2 1583.9h22v22h-22zM1868 1583.1h22v22h-22zM1879.9 1583.9h22v22h-22zM1891.7 1583.5h22v22h-22zM1903.5 1583.2h22v22h-22zM1915.3 1582.2h22v22h-22z"/>
<path fill="#00ffff" d="M248.7 996h22v22h-22zM260.8 1007h22v22h-22zM272 1032h22v22h-22zM284 1057h22v22h-22zM296 1107h22v22h-22zM307 1126h22v22h-22zM319 1178h22v22h-22zM331 1192h22v22h-22zM341.5 1254h22v22h-22zM353 1293h22v22h-22zM365 1312.8h22v22h-22zM377 1343h22v22h-22zM388 1369h22v22h-22zM400 1391h22v22h-22zM412 1406.5h22v22h-22zM424 1423h22v22h-22zM435 1437h22v22h-22zM447 1440h22v22h-22zM459 1452h22v22h-22zM470.5 1466h22v22h-22zM482 1476.5h22v22h-22zM494 1488h22v22h-22zM505 1491.5h22v22h-22zM516 1498.5h22v22h-22zM528 1506h22v22h-22zM540 1508h22v22h-22zM551 1514h22v22h-22zM563 1518.5h22v22h-22zM575 1522h22v22h-22zM587 1528h22v22h-22zM598 1532.6h22v22h-22zM610 1533h22v22h-22zM622 1538h22v22h-22zM633 1539h22v22h-22zM645 1544.9h22v22h-22zM656 1546h22v22h-22zM667 1548.4h22v22h-22zM679 1551.5h22v22h-22zM691 1555h22v22h-22zM702 1557h22v22h-22zM713 1559h22v22h-22zM721.5 1561.1h22v22h-22zM733.3 1561.2h22v22h-22zM745.1 1561.9h22v22h-22zM757 1564.4h22v22h-22zM768.8 1568.5h22v22h-22zM780.6 1570.2h22v22h-22zM792.4 1570.3h22v22h-22zM804.2 1573.3h22v22h-22zM816.1 1576.4h22v22h-22zM827.9 1578.2h22v22h-22zM839.7 1578.6h22v22h-22zM851.5 1581h22v22h-22zM863.3 1581.2h22v22h-22zM875.2 1582.3h22v22h-22zM887 1583.7h22v22h-22zM898.8 1583.6h22v22h-22zM910.6 1584.9h22v22h-22zM922.4 1585.4h22v22h-22zM934.3 1584.4h22v22h-22zM946.1 1586.8h22v22h-22zM957.9 1588h22v22h-22zM969.7 1588.6h22v22h-22zM981.5 1590.3h22v22h-22zM993.4 1592.8h22v22h-22zM1005.2 1594.1h22v22h-22zM1017 1594.3h22v22h-22zM1028.8 1595.9h22v22h-22zM1040.6 1596.5h22v22h-22zM1052.5 1596h22v22h-22zM1064.3 1597.4h22v22h-22zM1076.1 1599.1h22v22h-22zM1087.9 1597.4h22v22h-22zM1099.7 1598.5h22v22h-22zM1111.6 1599.8h22v22h-22zM1123.4 1600.8h22v22h-22zM1135.2 1600.5h22v22h-22zM1147 1603.2h22v22h-22zM1158.8 1603.4h22v22h-22zM1170.7 1604.5h22v22h-22zM1182.5 1604.7h22v22h-22zM1194.3 1603.4h22v22h-22zM1206.1 1604.1h22v22h-22zM1217.9 1605.8h22v22h-22zM1229.8 1605.3h22v22h-22zM1241.6 1608h22v22h-22zM1253.4 1605.9h22v22h-22zM1265.2 1607.8h22v22h-22zM1277 1609.5h22v22h-22zM1288.9 1608h22v22h-22zM1300.7 1609.1h22v22h-22zM1312.5 1609.6h22v22h-22zM1324.3 1610.8h22v22h-22zM1336.1 1609.5h22v22h-22zM1348 1609.6h22v22h-22zM1359.8 1611h22v22h-22zM1371.6 1611.5h22v22h-22zM1383.4 1610.9h22v22h-22zM1395.2 1612.7h22v22h-22zM1407.1 1613.4h22v22h-22zM1418.9 1612.9h22v22h-22zM1430.7 1612.9h22v22h-22zM1442.5 1613.5h22v22h-22zM1454.3 1615h22v22h-22zM1466.2 1613.3h22v22h-22zM1478 1614.5h22v22h-22zM1489.8 1614.4h22v22h-22zM1501.6 1616.2h22v22h-22zM1513.4 1615.3h22v22h-22zM1525.3 1615.6h22v22h-22zM1537.1 1618.1h22v22h-22zM1548.9 1616.7h22v22h-22zM1560.7 1618.7h22v22h-22zM1572.5 1619.3h22v22h-22zM1584.4 1618.2h22v22h-22zM1596.2 1620.6h22v22h-22zM1608 1618.8h22v22h-22zM1619.8 1619.5h22v22h-22zM1631.6 1619.9h22v22h-22zM1643.5 1620h22v22h-22zM1655.3 1619.8h22v22h-22zM1667.1 1621.5h22v22h-22zM1678.9 1621.1h22v22h-22zM1690.7 1622h22v22h-22zM1702.6 1621.8h22v22h-22zM1714.4 1623.7h22v22h-22zM1726.2 1623.5h22v22h-22zM1738 1622.6h22v22h-22zM1749.8 1622.6h22v22h-22zM1761.7 1623h22v22h-22zM1773.5 1624.2h22v22h-22zM1785.3 1623.9h22v22h-22zM1797.1 1625h22v22h-22zM1808.9 1623.7h22v22h-22zM1820.8 1624.5h22v22h-22zM1832.6 1626.1h22v22h-22zM1844.4 1627h22v22h-22zM1856.2 1625.5h22v22h-22zM1868 1626.7h22v22h-22zM1879.9 1627.8h22v22h-22zM1891.7 1626.6h22v22h-22zM1903.5 1626.5h22v22h-22zM1915.3 1627.6h22v22h-22z"/>
<polygon fill="#fff" points="458.5,1257.5 454,1257.5 450,1259.5 447.5,1263 447.5,1267 449,1270.5 452,1272.8 457,1272.8 462,1271.5 466,1270.3 471,1268.5 471,1262 459,1262"/>
<polygon fill="#fff" points="458,1306.5 466,1305 474,1303.5 486,1302 486,1315 479,1316 472,1319.5 466,1320.5 458,1322"/>
</g>
<g stroke="#000" stroke-width="9" stroke-linecap="round" stroke-linejoin="round">
<rect x="260.5" y="899.5" width="1662.0" height="828.0" fill="none" stroke="#000" stroke-width="9"/>
<line x1="814.5" y1="1727.5" x2="814.5" y2="1707.2" />
<line x1="1368.5" y1="1727.5" x2="1368.5" y2="1707.2" />
<line x1="537.5" y1="1727.5" x2="537.5" y2="1716.5" />
<line x1="1091.5" y1="1727.5" x2="1091.5" y2="1716.5" />
<line x1="1645.5" y1="1727.5" x2="1645.5" y2="1716.5" />
<line x1="260.5" y1="1543.5" x2="280.5" y2="1543.5" />
<line x1="260.5" y1="1359.5" x2="280.5" y2="1359.5" />
<line x1="260.5" y1="1175.5" x2="280.5" y2="1175.5" />
<line x1="260.5" y1="991.5" x2="280.5" y2="991.5" />
<line x1="260.5" y1="1635.5" x2="270.5" y2="1635.5" />
<line x1="260.5" y1="1451.5" x2="270.5" y2="1451.5" />
<line x1="260.5" y1="1267.5" x2="270.5" y2="1267.5" />
<line x1="260.5" y1="1083.5" x2="270.5" y2="1083.5" />
</g>
<g shape-rendering="auto">
<text transform="matrix(0.62556,0,0,0.62240,153.73,159.39)" font-size="100" font-weight="bold" style="font-kerning:none">70</text>
<text transform="matrix(0.60901,0,0,0.62092,155.72,341.99)" font-size="100" font-weight="bold" style="font-kerning:none">60</text>
<text transform="matrix(0.61288,0,0,0.62240,155.35,527.39)" font-size="100" font-weight="bold" style="font-kerning:none">50</text>
<text transform="matrix(0.59584,0,0,0.62981,156.89,710.48)" font-size="100" font-weight="bold" style="font-kerning:none">40</text>
<text transform="matrix(0.61884,0,0,0.63574,154.67,895.48)" font-size="100" font-weight="bold" style="font-kerning:none">30</text>
<text transform="matrix(0.61672,0,0,0.62537,159.68,1009.49)" font-size="100" font-weight="bold" style="font-kerning:none">70</text>
<text transform="matrix(0.59500,0,0,0.62537,161.77,1193.39)" font-size="100" font-weight="bold" style="font-kerning:none">60</text>
<text transform="matrix(0.59769,0,0,0.62537,161.41,1377.29)" font-size="100" font-weight="bold" style="font-kerning:none">50</text>
<text transform="matrix(0.58108,0,0,0.62833,163.01,1560.39)" font-size="100" font-weight="bold" style="font-kerning:none">40</text>
<text transform="matrix(0.60477,0,0,0.60017,160.53,1746.21)" font-size="100" font-weight="bold" style="font-kerning:none">30</text>
<text transform="matrix(0.64885,0,0,0.61351,243.73,1794.90)" font-size="100" font-weight="bold" style="font-kerning:none">0</text>
<text transform="matrix(0.60132,0,0,0.61351,768.59,1794.90)" font-size="100" font-weight="bold" style="font-kerning:none">500</text>
<text transform="matrix(0.57019,0,0,0.61499,1312.73,1795.40)" font-size="100" font-weight="bold" style="font-kerning:none">1000</text>
<text transform="matrix(0.56647,0,0,0.61499,1866.26,1795.40)" font-size="100" font-weight="bold" style="font-kerning:none">1500</text>
<text transform="matrix(0.74240,0,0,0.73155,1023.70,1943.09)" font-size="100" font-weight="bold" style="font-kerning:none">t</text>
<text transform="matrix(0.89551,0,0,0.79405,1071.06,1945.90)" font-size="100" font-weight="bold" style="font-kerning:none">(</text>
<text transform="matrix(0.78631,0,0,0.70692,1098.52,1943.11)" font-size="100" font-weight="bold" style="font-kerning:none">s</text>
<text transform="matrix(0.89551,0,0,0.79405,1129.01,1945.90)" font-size="100" font-weight="bold" style="font-kerning:none">)</text>
<text transform="matrix(0,0.59767,0.84058,0,103.43,582.84)" font-size="100" font-weight="bold" style="font-family:'DejaVu Serif',serif;font-kerning:none">γ</text>
<text transform="matrix(0,-0.91498,0.79516,0,104.07,564.22)" font-size="100" font-weight="bold" style="font-kerning:none">(</text>
<text transform="matrix(0,-0.81236,0.70035,0,101.00,538.28)" font-size="100" font-weight="bold" style="font-kerning:none">m</text>
<text transform="matrix(0,-0.96095,0.80943,0,101.90,472.93)" font-size="100" font-weight="bold" style="font-kerning:none">N</text>
<text transform="matrix(0,-0.64771,0.64771,0,102.16,403.83)" font-size="100" font-weight="bold" style="font-kerning:none">·</text>
<text transform="matrix(0,-0.81109,0.70460,0,100.90,382.18)" font-size="100" font-weight="bold" style="font-kerning:none">m</text>
<text transform="matrix(0,-0.50430,0.61205,0,64.80,313.65)" font-size="100" font-weight="bold" style="font-kerning:none">-</text>
<text transform="matrix(0,-0.44002,0.46807,0,60.90,298.52)" font-size="100" font-weight="bold" style="font-kerning:none">1</text>
<text transform="matrix(0,-0.89941,0.79736,0,104.12,280.70)" font-size="100" font-weight="bold" style="font-kerning:none">)</text>
<text transform="matrix(0,0.59767,0.84058,0,111.43,1530.84)" font-size="100" font-weight="bold" style="font-family:'DejaVu Serif',serif;font-kerning:none">γ</text>
<text transform="matrix(0,-0.91498,0.79516,0,112.07,1512.22)" font-size="100" font-weight="bold" style="font-kerning:none">(</text>
<text transform="matrix(0,-0.81236,0.70035,0,109.00,1486.28)" font-size="100" font-weight="bold" style="font-kerning:none">m</text>
<text transform="matrix(0,-0.96095,0.80943,0,109.90,1420.93)" font-size="100" font-weight="bold" style="font-kerning:none">N</text>
<text transform="matrix(0,-0.64771,0.64771,0,110.16,1351.83)" font-size="100" font-weight="bold" style="font-kerning:none">·</text>
<text transform="matrix(0,-0.81109,0.70460,0,108.90,1330.18)" font-size="100" font-weight="bold" style="font-kerning:none">m</text>
<text transform="matrix(0,-0.50430,0.61205,0,72.80,1261.65)" font-size="100" font-weight="bold" style="font-kerning:none">-</text>
<text transform="matrix(0,-0.44002,0.46807,0,68.90,1246.52)" font-size="100" font-weight="bold" style="font-kerning:none">1</text>
<text transform="matrix(0,-0.89941,0.79736,0,112.12,1228.70)" font-size="100" font-weight="bold" style="font-kerning:none">)</text>
<text transform="matrix(0.59871,0,0,0.58455,286.97,843.53)" font-size="100" font-weight="bold" style="font-kerning:none">a</text>
<text transform="matrix(0.70473,0,0,0.63194,315.63,845.75)" font-size="100" font-weight="bold" style="font-kerning:none">)</text>
<text transform="matrix(0.64025,0,0,0.59976,281.99,1705.41)" font-size="100" font-weight="bold" style="font-kerning:none">b</text>
<text transform="matrix(0.70862,0,0,0.62863,315.52,1707.42)" font-size="100" font-weight="bold" style="font-kerning:none">)</text>
<text transform="matrix(0.46237,0,0,0.46884,623.89,834.24)" font-size="100" font-weight="normal" style="font-kerning:none">3</text>
<text transform="matrix(0.54566,0,0,0.53246,661.04,832.66)" font-size="100" font-weight="normal" style="font-kerning:none">µM</text>
<text transform="matrix(0.45301,0,0,0.48162,872.27,834.63)" font-size="100" font-weight="normal" style="font-kerning:none">8</text>
<text transform="matrix(0.53782,0,0,0.53246,907.47,832.66)" font-size="100" font-weight="normal" style="font-kerning:none">µM</text>
<text transform="matrix(0.46962,0,0,0.47916,1116.57,834.23)" font-size="100" font-weight="normal" style="font-kerning:none">15</text>
<text transform="matrix(0.54566,0,0,0.53246,1176.94,832.66)" font-size="100" font-weight="normal" style="font-kerning:none">µM</text>
<text transform="matrix(0.49012,0,0,0.47569,1416.25,834.24)" font-size="100" font-weight="normal" style="font-kerning:none">30</text>
<text transform="matrix(0.55349,0,0,0.53246,1477.12,832.66)" font-size="100" font-weight="normal" style="font-kerning:none">µM</text>
<text transform="matrix(0.44190,0,0,0.47262,1686.92,834.03)" font-size="100" font-weight="normal" style="font-kerning:none">0.1</text>
<text transform="matrix(0.58143,0,0,0.54980,1759.78,834.00)" font-size="100" font-weight="normal" style="font-kerning:none">mM</text>
<text transform="matrix(0.55486,0,0,0.54712,503.16,1702.23)" font-size="100" font-weight="normal" style="font-kerning:none">2.62</text>
<text transform="matrix(0.57700,0,0,0.54629,614.14,1701.77)" font-size="100" font-weight="normal" style="font-kerning:none">µM</text>
<text transform="matrix(0.53571,0,0,0.54712,843.69,1702.23)" font-size="100" font-weight="normal" style="font-kerning:none">5.24</text>
<text transform="matrix(0.57700,0,0,0.54629,953.64,1701.77)" font-size="100" font-weight="normal" style="font-kerning:none">µM</text>
<text transform="matrix(0.56291,0,0,0.54831,1166.15,1702.46)" font-size="100" font-weight="normal" style="font-kerning:none">10</text>
<text transform="matrix(0.57130,0,0,0.54629,1237.06,1701.77)" font-size="100" font-weight="normal" style="font-kerning:none">µM</text>
<text transform="matrix(0.57042,0,0,0.55230,1464.59,1702.46)" font-size="100" font-weight="normal" style="font-kerning:none">15</text>
<text transform="matrix(0.56703,0,0,0.54629,1537.57,1701.77)" font-size="100" font-weight="normal" style="font-kerning:none">µM</text>
<text transform="matrix(0.55275,0,0,0.55070,1749.57,1702.46)" font-size="100" font-weight="normal" style="font-kerning:none">26</text>
<text transform="matrix(0.57202,0,0,0.54629,1814.46,1701.77)" font-size="100" font-weight="normal" style="font-kerning:none">µM</text>
<rect x="547" y="805" width="22" height="22" fill="#000"/>
<rect x="793" y="805" width="22" height="22" fill="#f00"/>
<rect x="1039" y="805" width="22" height="22" fill="#0f0"/>
<rect x="1340" y="805" width="22" height="22" fill="#00f"/>
<rect x="1609.5" y="805" width="22" height="22" fill="#0ff"/>
<rect x="427.2" y="1673" width="22" height="22" fill="#000"/>
<rect x="766.2" y="1673" width="22" height="22" fill="#f00"/>
<rect x="1090" y="1673" width="22" height="22" fill="#0f0"/>
<rect x="1389.2" y="1673" width="22" height="22" fill="#00f"/>
<rect x="1673.2" y="1673" width="22" height="22" fill="#0ff"/>
</g>
</svg>
</body></html>
